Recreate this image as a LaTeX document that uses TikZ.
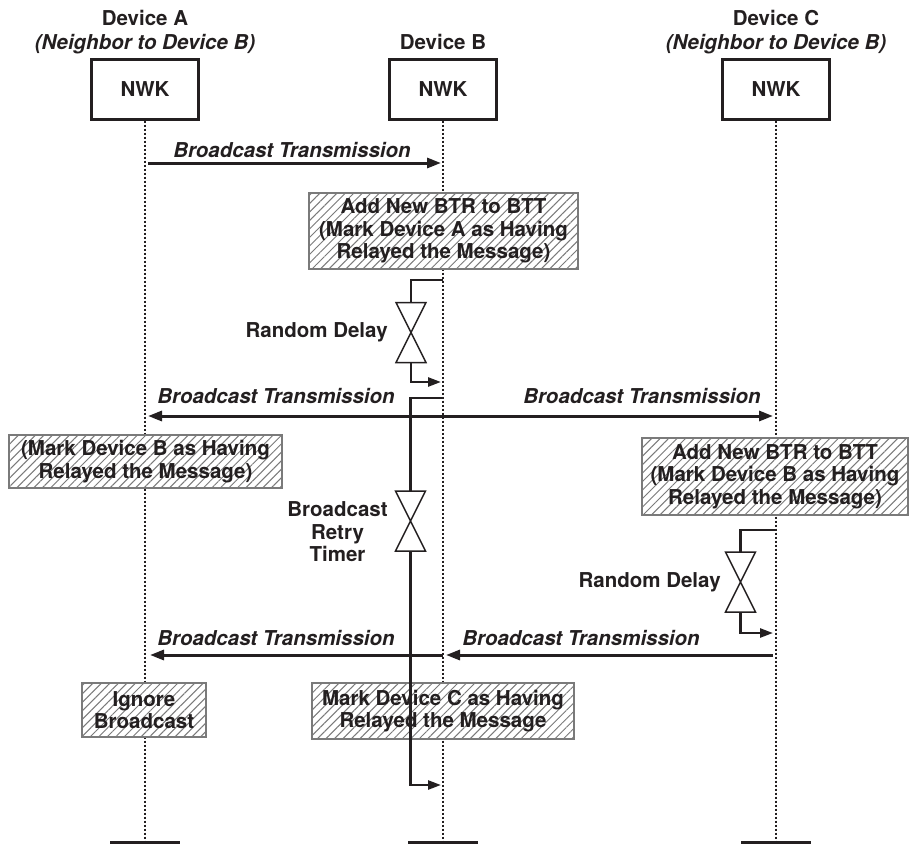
\documentclass[tikz,border=0pt]{standalone}
\usepackage{fontspec}
\setmainfont{TeX Gyre Heros}
\usetikzlibrary{arrows.meta,patterns.meta}
\definecolor{ink}{HTML}{231F20}
\definecolor{hatch}{HTML}{7A7A7A}
\tikzset{
  sq/.style={x=1pt,y=-1pt,line width=2pt,draw=ink,text=ink,font=\fontsize{20.5}{22.5}\selectfont\bfseries},
  nwk/.style={draw=ink,fill=white,line width=3pt,minimum width=107pt,minimum height=60pt},
  life/.style={draw=ink,line width=2.5pt,dash pattern=on 2pt off 2pt},
  msg/.style={draw=ink,line width=3pt,-{Triangle[length=14pt,width=10pt]}},
  wire/.style={draw=ink,line width=2.5pt},
  note/.style={draw=hatch,line width=2.5pt,preaction={fill=white},pattern={Lines[angle=45,distance=6pt,line width=1pt]},pattern color=hatch,align=center,inner sep=0pt},
  hg/.style={minimum width=28pt,minimum height=58pt,inner sep=0pt},
  lbl/.style={font=\fontsize{20.5}{22.5}\selectfont\bfseries\itshape},
}

\begin{document}
\begin{tikzpicture}[sq]
  \useasboundingbox (0,0) rectangle (913,844);
  % devices
  \node[anchor=base] (devA) at (145,25) {Device A};
  \node[anchor=base,lbl] (nbA) at (145,49) {(Neighbor to Device B)};
  \node[anchor=base] (devB) at (443,49) {Device B};
  \node[anchor=base] (devC) at (776,25) {Device C};
  \node[anchor=base,lbl] (nbC) at (776,49) {(Neighbor to Device B)};
  \node[nwk] (nwkA) at (145,89) {NWK};
  \node[nwk] (nwkB) at (443,89) {NWK};
  \node[nwk] (nwkC) at (776,89) {NWK};
  % lifelines
  \coordinate (endA) at (145,842);
  \coordinate (endB) at (443,842);
  \coordinate (endC) at (776,842);
  \foreach \d in {A,B,C}{
    \draw[life] (nwk\d) -- (end\d);
    \draw[line width=3pt] ([xshift=-35pt]end\d) -- ([xshift=35pt]end\d);
  }
  % messages
  \coordinate (m1a) at (148,163); \coordinate (m1b) at (441,163);
  \draw[msg] (m1a) -- (m1b);
  \node[lbl,anchor=base east] (t1) at (415,157) {Broadcast Transmission};
  \coordinate (m2a) at (148,416); \coordinate (m2c) at (773,416);
  \draw[msg,{Triangle[length=14pt,width=10pt]}-{Triangle[length=14pt,width=10pt]}] (m2a) -- (m2c);
  \node[lbl,anchor=base west] (t2) at (153,403) {Broadcast Transmission};
  \node[lbl,anchor=base east] (t3) at (765,403) {Broadcast Transmission};
  \coordinate (m3c) at (773,655); \coordinate (m3b) at (446,655);
  \coordinate (m4b) at (443,655); \coordinate (m4a) at (150,655);
  \draw[msg] (m3c) -- (m3b);
  \draw[msg] (m4b) -- (m4a);
  \node[lbl,anchor=base west] (t4) at (153,645) {Broadcast Transmission};
  \node[lbl,anchor=base west] (t5) at (458,645) {Broadcast Transmission};
  % notes
  \node[note,minimum width=269pt,minimum height=76pt] (n1) at (443.5,231) {Add New BTR to BTT\\(Mark Device A as Having\\Relayed the Message)};
  \node[note,minimum width=273pt,minimum height=53pt] (n2) at (145.5,461.5) {(Mark Device B as Having\\Relayed the Message)};
  \node[note,minimum width=266pt,minimum height=77pt] (n3) at (775,476.5) {Add New BTR to BTT\\(Mark Device B as Having\\Relayed the Message)};
  \node[note,minimum width=124pt,minimum height=54pt] (n4) at (144,710) {Ignore\\Broadcast};
  \node[note,minimum width=262pt,minimum height=56pt] (n5) at (443,711) {Mark Device C as Having\\Relayed the Message};
  % delays and timer
  \node[hg] (h1) at (411,332.5) {};
  \node[hg] (h2) at (410.5,521) {};
  \node[hg] (h3) at (740.5,582) {};
  \foreach \h in {h1,h2,h3}{\draw[line width=1.5pt,fill=white] (\h.north west) -- (\h.south east) -- (\h.south west) -- (\h.north east) -- cycle;}
  \coordinate (d1a) at (443,280); \coordinate (d1b) at (441,382);
  \draw[wire] (d1a) -| (h1.north);
  \draw[wire,-{Triangle[length=13pt,width=9pt]}] (h1.south) |- (d1b);
  \coordinate (d2a) at (443,398); \coordinate (d2b) at (441,785);
  \draw[wire] (d2a) -| (h2.north);
  \draw[wire,-{Triangle[length=13pt,width=9pt]}] (h2.south) |- (d2b);
  \coordinate (d3a) at (776,530); \coordinate (d3b) at (773,633);
  \draw[wire] (d3a) -| (h3.north);
  \draw[wire,-{Triangle[length=13pt,width=9pt]}] (h3.south) |- (d3b);
  \node[anchor=east] (rd1) at (392,332) {Random Delay};
  \node[anchor=east,align=center] (rt) at (392,532) {Broadcast\\Retry\\Timer};
  \node[anchor=east] (rd2) at (725,582) {Random Delay};
\end{tikzpicture}
\end{document}
